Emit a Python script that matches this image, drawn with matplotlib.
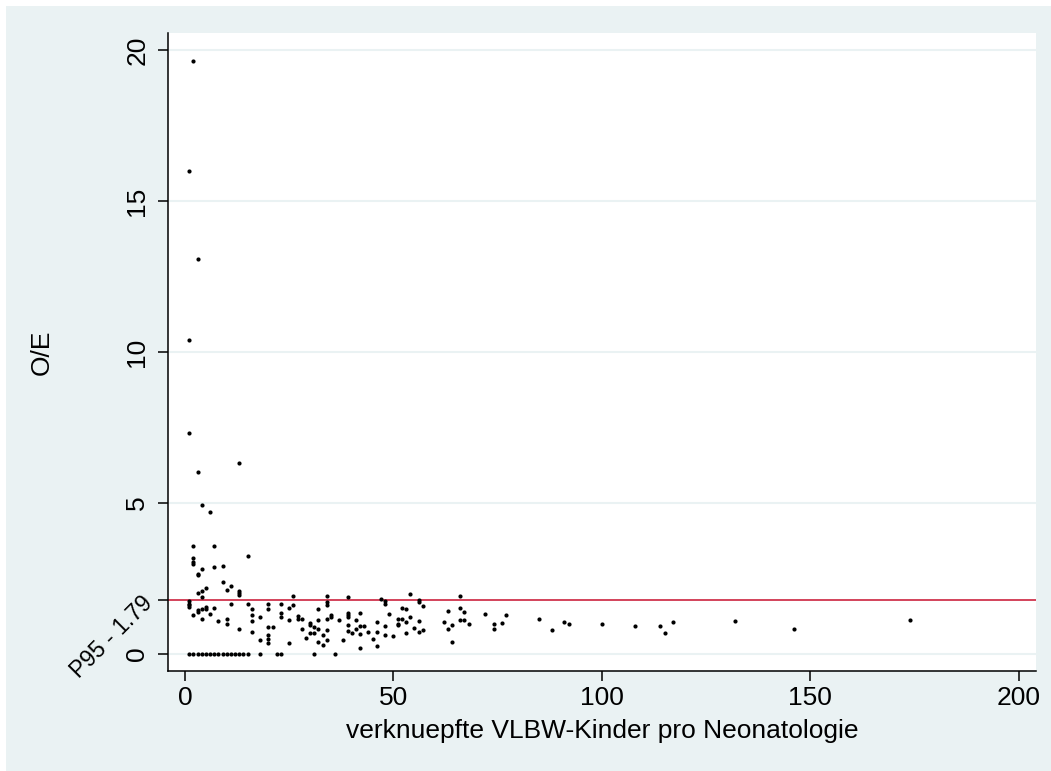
import matplotlib.pyplot as plt
from matplotlib.patches import Rectangle

plt.rcParams['font.family'] = ['Liberation Sans', 'DejaVu Sans']

# zero O/E hospitals
x_zero = [1, 2, 3, 4, 5, 6, 7, 8, 9, 10, 11, 12, 13, 14, 15, 18, 22, 23, 31, 36]
y_zero = [0] * len(x_zero)

# small hospitals (x <= 21)
x_small = [2, 1, 3, 1, 1, 13, 3, 4, 6,
           2, 7, 15, 2, 2, 2, 4, 7, 9, 3, 3, 9, 11, 10, 5, 4, 3, 4, 13, 13, 13,
           1, 1, 1, 1, 2, 3, 3, 4, 5, 5, 6, 7, 4, 8, 10, 10, 11, 13, 15,
           16, 16, 16, 16, 18, 18, 20, 20, 20, 21, 20, 20, 20]
y_small = [19.64, 16.0, 13.09, 10.4, 7.33, 6.33, 6.02, 4.93, 4.69,
           3.59, 3.58, 3.25, 3.17, 3.03, 2.97, 2.81, 2.87, 2.9, 2.66, 2.61, 2.38, 2.25, 2.13, 2.2, 2.09, 2.03, 1.9, 2.09, 2.02, 1.96,
           1.74, 1.67, 1.61, 1.56, 1.29, 1.46, 1.39, 1.48, 1.57, 1.50, 1.32, 1.52, 1.17, 1.08, 1.15, 0.98, 1.65, 0.84, 1.66,
           1.48, 1.29, 1.10, 0.73, 1.23, 0.46, 1.66, 1.49, 0.9, 0.9, 0.63, 0.50, 0.36]

# mid-size hospitals
x_mid = [23, 23, 23, 25, 25, 25, 26, 26, 27, 27, 28, 28, 29, 30, 30, 31, 30, 31,
         32, 32, 32, 32, 33, 33, 34, 34, 34, 34, 34, 34, 35, 35, 37, 38,
         39, 39, 39, 39, 39, 39, 40, 41, 41, 42, 42, 43, 42, 42, 44, 45,
         46, 46, 46, 47, 48, 48, 49, 48, 48, 50, 51, 51, 51, 52, 52,
         53, 53, 53, 54, 54, 55, 56, 56, 56, 56, 57, 57,
         62, 63, 63, 64, 64, 66, 66, 67, 66, 67, 68]
y_mid = [1.67, 1.37, 1.23, 1.51, 1.13, 0.35, 1.93, 1.61, 1.27, 1.17, 1.17, 0.83, 0.53, 1.03, 0.96, 0.88, 0.71, 0.68,
         1.48, 1.13, 0.83, 0.40, 0.62, 0.31, 1.93, 1.71, 1.63, 1.16, 0.78, 0.47, 1.28, 1.22, 1.13, 0.47,
         1.90, 1.37, 1.30, 1.24, 0.96, 0.76, 0.71, 1.13, 0.84, 1.36, 0.94, 0.94, 0.65, 0.2, 0.72, 0.49,
         1.07, 0.72, 0.26, 1.81, 1.77, 1.67, 1.32, 0.94, 0.63, 0.6, 1.16, 0.99, 0.95, 1.51, 1.16,
         1.49, 1.06, 0.68, 2.0, 1.22, 0.86, 1.80, 1.72, 1.08, 0.74, 1.60, 0.81,
         1.05, 1.44, 0.84, 0.95, 0.41, 1.93, 1.53, 1.39, 1.14, 1.11, 0.98]

# large hospitals
x_large = [72, 74, 74, 76, 77, 85, 88, 91, 92, 100, 108, 114, 115, 117, 132, 146, 174]
y_large = [1.32, 0.99, 0.83, 1.04, 1.29, 1.16, 0.78, 1.06, 1.0, 0.98, 0.93, 0.92, 0.68, 1.05, 1.10, 0.82, 1.11]

p95 = 1.79

xs = x_zero + x_small + x_mid + x_large
ys = y_zero + y_small + y_mid + y_large

bg = '#EAF2F3'
fig = plt.figure(figsize=(10.51, 7.71), dpi=100, facecolor='white')
fig.add_artist(Rectangle((6 / 1051, 0), 1, 1 - 6 / 771, transform=fig.transFigure,
                         facecolor=bg, edgecolor='none', zorder=-10))

ax = fig.add_axes([168 / 1051, 1 - 671 / 771, (1036 - 168) / 1051, (671 - 33) / 771])
ax.set_facecolor('white')

for g in [0, 5, 10, 15, 20]:
    ax.axhline(g, color=bg, linewidth=1.5, zorder=1)

ax.axhline(p95, color='#C8102E', linewidth=1.1, zorder=2)
ax.scatter(xs, ys, s=9, color='black', linewidths=0, zorder=3)

ax.set_xlim(-4.08, 204.1)
ax.set_ylim(-0.563, 20.56)

ax.spines['top'].set_visible(False)
ax.spines['right'].set_visible(False)
ax.spines['left'].set_linewidth(1.1)
ax.spines['bottom'].set_linewidth(1.1)

ax.set_xticks([0, 50, 100, 150, 200])
ax.set_xticklabels(['0', '50', '100', '150', '200'])
ax.set_yticks([0, p95, 5, 10, 15, 20])
ax.set_yticklabels(['0', 'P95 - 1.79', '5', '10', '15', '20'])
ax.tick_params(axis='both', length=7, width=1.1, labelsize=19)
ax.tick_params(axis='x', pad=3.5)
ax.tick_params(axis='y', pad=6.5)

for lab in ax.get_yticklabels():
    if lab.get_text().startswith('P95'):
        lab.set_rotation(45)
        lab.set_rotation_mode('anchor')
        lab.set_ha('right')
        lab.set_va('center')
        lab.set_fontsize(16.5)
    else:
        lab.set_rotation(90)
        lab.set_va('center')
        lab.set_ha('right')

ax.set_xlabel('verknuepfte VLBW-Kinder pro Neonatologie', fontsize=19, labelpad=7)
ax.set_ylabel('O/E', fontsize=19)
ax.yaxis.set_label_coords(-0.132, 0.5)

fig.savefig('out.png', dpi=100, facecolor='white')
